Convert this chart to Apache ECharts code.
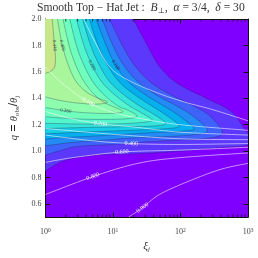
<!DOCTYPE html>
<html><head><meta charset="utf-8">
<script src="https://cdn.jsdelivr.net/npm/echarts@6/dist/echarts.min.js"></script>
<style>html,body{margin:0;padding:0;background:#fff}#c{width:258px;height:258px}</style>
</head><body><div id="c"></div>
<script>
// ---- axis ticks ----
const xiTicks = [1, 10, 100, 1000];
const qTicks = [0.6, 0.8, 1.0, 1.2, 1.4, 1.6, 1.8, 2.0];
const xiRange = [1, 1000];
const qRange = [0.5, 2.0];

// ---- filled contour levels (boundaries as [xi, q]) ----
const fillLevels = ['0.040','0.080','0.120','0.160','0.200','0.240','0.280','0.320','0.360','0.400','0.440'];
const c04 = [[20,2.0],[32.4,1.80],[49,1.64],[91.2,1.51],[240,1.40],[562,1.30],[912,1.16],[1259,1.08],[891,1.04],[501,1.03],[200,1.015],[100,1.0],[23.4,0.98],[10,0.975],[5.25,0.97],[2.51,0.945],[1.58,0.91],[1,0.85]];
const c08 = [[8.91,2.0],[13.8,1.80],[20.9,1.65],[36.3,1.52],[75.9,1.42],[158.5,1.34],[282,1.26],[417,1.14],[282,1.10],[100,1.085],[31.6,1.07],[10,1.05],[2.95,1.035],[1.58,1.0],[1,0.97]];
const c12 = [[6.92,2.0],[10,1.80],[14.45,1.65],[24,1.52],[45.7,1.42],[89.1,1.34],[158.5,1.26],[251,1.155],[158.5,1.125],[63.1,1.11],[20,1.10],[6.31,1.08],[2.51,1.065],[1,1.04]];
const c16 = [[5.62,2.0],[7.94,1.80],[10.96,1.65],[17.4,1.52],[31.6,1.42],[57.5,1.34],[100,1.26],[158.5,1.17],[100,1.15],[39.8,1.14],[12.6,1.125],[3.98,1.11],[1.585,1.10],[1,1.09]];
const c20 = [[4.47,2.0],[6.03,1.80],[8.32,1.65],[12.6,1.52],[21.9,1.42],[38,1.34],[66.1,1.26],[95.5,1.19],[63.1,1.17],[25.1,1.16],[7.94,1.15],[2.51,1.14],[1,1.13]];
const c24 = [[3.55,2.0],[4.68,1.80],[6.31,1.65],[9.12,1.52],[15.1,1.42],[25.1,1.34],[39.8,1.28],[60.3,1.21],[39.8,1.19],[15.85,1.185],[5.01,1.18],[2.0,1.175],[1,1.17]];
const c28 = [[2.88,2.0],[3.72,1.80],[4.90,1.65],[6.92,1.52],[10.96,1.42],[17.8,1.34],[26.3,1.29],[38,1.235],[25.1,1.215],[10,1.205],[3.16,1.205],[1,1.21]];
const c32 = [[2.29,2.0],[2.88,1.80],[3.72,1.65],[5.13,1.52],[7.59,1.42],[12.0,1.34],[16.6,1.31],[22.9,1.265],[15.85,1.245],[6.31,1.24],[2.51,1.245],[1,1.26]];
const c36 = [[1.82,2.0],[2.24,1.80],[2.82,1.65],[3.80,1.52],[5.50,1.42],[7.94,1.36],[14.1,1.30],[8.91,1.285],[3.98,1.29],[2.0,1.305],[1,1.33]];
const c40 = [[1.51,2.0],[1.78,1.80],[2.19,1.65],[2.82,1.53],[3.98,1.45],[6.03,1.40],[8.32,1.37],[5.62,1.355],[2.82,1.365],[1.585,1.385],[1,1.41]];
const c44 = [[1.26,2.0],[1.365,1.80],[1.41,1.70],[1.35,1.63],[1.15,1.60],[1,1.59]];
const fillContours = [c04,c08,c12,c16,c20,c24,c28,c32,c36,c40,c44];
// label index on each dark contour (-1 = none)
const fillLabelAt = [-1,-1,-1,2,-1,-1,2,-1,9,1,1];

// ---- white contour lines ----
const whiteLevels = ['', '0.100', '0.200', '', '0.400', '0.600', '0.800', '0.900'];
const wA = [[3.69,2.0],[5.58,1.814],[9.0,1.636],[17,1.536],[44.2,1.443],[115,1.371],[299,1.314],[1000,1.229]];
const wB = [[1,1.636],[1.83,1.507],[4.33,1.371],[9.0,1.30],[23.4,1.25],[98,1.20],[1000,1.157]];
const wC = [[1,1.30],[2.52,1.243],[6.54,1.207],[23.4,1.179],[98,1.143],[1000,1.121]];
const wD = [[1,1.171],[9.0,1.129],[98,1.093],[1000,1.086]];
const wE = [[1,1.121],[4.76,1.079],[18.7,1.057],[98,1.05],[1000,1.057]];
const wF = [[1,0.914],[2.52,0.95],[13.6,0.993],[98,1.007],[1000,1.029]];
const wG = [[1,0.671],[5.07,0.807],[23.4,0.907],[98,0.95],[1000,0.986]];
const wH = [[17,0.5],[27.5,0.571],[48.7,0.671],[143.6,0.779],[410,0.864],[1000,0.907]];
const whiteLines = [wA,wB,wC,wD,wE,wF,wG,wH];
const whiteLabelAt = [-1,2,2,-1,2,2,1,1];

// ---- style ----
const SERIF = "'Liberation Serif','DejaVu Serif',serif";
const bgColor = '#8000ff';
const bandColors = ['#5c38fd','#3f63fa','#228bf4','#05afed','#18cde4','#36e5d8','#53f5cc','#70febd','#8dfead','#aaf69c','#c7e789'];

function smoothPts(pts, n) {
  const out = [pts[0]];
  for (let i = 0; i < pts.length - 1; i++) {
    const p0 = pts[Math.max(i - 1, 0)], p1 = pts[i], p2 = pts[i + 1], p3 = pts[Math.min(i + 2, pts.length - 1)];
    for (let s = 1; s <= n; s++) {
      const t = s / n, t2 = t * t, t3 = t2 * t;
      out.push([0, 1].map(k => 0.5 * ((2 * p1[k]) + (-p0[k] + p2[k]) * t + (2 * p0[k] - 5 * p1[k] + 4 * p2[k] - p3[k]) * t2 + (-p0[k] + 3 * p1[k] - 3 * p2[k] + p3[k]) * t3)));
    }
  }
  return out;
}
function clipOf(cs) { return {type: 'rect', shape: {x: cs.x, y: cs.y, width: cs.width, height: cs.height}}; }

function labelEl(pts, i, text, color, size) {
  const p = pts[i];
  const a = pts[Math.max(i - 1, 0)], b = pts[Math.min(i + 1, pts.length - 1)];
  let ang = Math.atan2(-(b[1] - a[1]), b[0] - a[0]);
  if (ang > Math.PI / 2) ang -= Math.PI;
  if (ang < -Math.PI / 2) ang += Math.PI;
  return {type: 'text', x: p[0], y: p[1], rotation: ang,
    style: {text: text, fill: color, fontSize: size, fontFamily: SERIF, align: 'center', verticalAlign: 'middle'}};
}

const chart = echarts.init(document.getElementById('c'), null, {renderer: 'canvas'});

const minorX = [];
for (let k = 0; k < 3; k++) for (let m = 2; m <= 9; m++) minorX.push(m * Math.pow(10, k));

const option = {
  animation: false,
  backgroundColor: '#fff',
  grid: {left: 31, right: 10, top: 19, bottom: 29, show: true, backgroundColor: bgColor, borderWidth: 0},
  graphic: [{
    type: 'text', x: 37, y: 8,
    style: {
      text: 'Smooth Top − Hat Jet :  {i|B}{s|⊥},  {i|α} = 3/4,  {i|δ} = 30',
      fontFamily: SERIF, fontSize: 11.6, fill: '#333', align: 'left', verticalAlign: 'middle',
      rich: {i: {fontStyle: 'italic', fontFamily: SERIF, fontSize: 11.6, lineHeight: 14},
             s: {fontFamily: SERIF, fontSize: 7.5, verticalAlign: 'bottom', lineHeight: 8}}
    }
  }],
  xAxis: [{
    type: 'log', logBase: 10, min: xiRange[0], max: xiRange[1],
    axisLine: {lineStyle: {color: '#111', width: 1}},
    axisTick: {inside: true, length: 4.5, customValues: xiTicks, lineStyle: {color: '#111'}},
    axisLabel: {customValues: xiTicks, margin: 10, formatter: v => '{b|10}{s|' + Math.round(Math.log10(v)) + '}',
      rich: {b: {fontSize: 8, fontFamily: SERIF, color: '#444', lineHeight: 10},
             s: {fontSize: 5.5, fontFamily: SERIF, color: '#444', verticalAlign: 'top', lineHeight: 6}}},
    splitLine: {show: false},
    name: '{i|ξ}{s|j}', nameLocation: 'middle', nameGap: 20,
    nameTextStyle: {rich: {i: {fontSize: 11, fontStyle: 'italic', fontFamily: SERIF, color: '#333', lineHeight: 13},
                           s: {fontSize: 7, fontStyle: 'italic', fontFamily: SERIF, color: '#333', verticalAlign: 'bottom', lineHeight: 8}}}
  }, {
    type: 'log', logBase: 10, min: xiRange[0], max: xiRange[1], position: 'top',
    axisLine: {lineStyle: {color: '#111', width: 1}},
    axisTick: {inside: true, length: 4.5, customValues: xiTicks, lineStyle: {color: '#111'}},
    axisLabel: {show: false}, splitLine: {show: false}
  }],
  yAxis: [{
    type: 'value', min: qRange[0], max: qRange[1],
    axisLine: {show: true, lineStyle: {color: '#111', width: 1}},
    axisTick: {show: true, inside: true, length: 4.5, customValues: qTicks, lineStyle: {color: '#111'}},
    axisLabel: {customValues: qTicks, margin: 4, fontSize: 8, fontFamily: SERIF, color: '#444', formatter: v => v.toFixed(1)},
    splitLine: {show: false},
    name: '{i|q} = {i|θ}{s|obs}/{i|θ}{s|j}', nameLocation: 'middle', nameRotate: 90, nameGap: 20,
    nameTextStyle: {rich: {i: {fontSize: 10.5, fontStyle: 'italic', fontFamily: SERIF, color: '#333', lineHeight: 13},
                           s: {fontSize: 7, fontFamily: SERIF, color: '#333', verticalAlign: 'bottom', lineHeight: 8}}}
  }, {
    type: 'value', min: qRange[0], max: qRange[1], position: 'right',
    axisLine: {show: true, lineStyle: {color: '#111', width: 1}},
    axisTick: {show: true, inside: true, length: 4.5, customValues: qTicks, lineStyle: {color: '#111'}},
    axisLabel: {show: false}, splitLine: {show: false}
  }],
  series: [
    {
      type: 'custom', coordinateSystem: 'cartesian2d', clip: true, silent: true, z: 2,
      encode: {x: 0, y: 1},
      data: fillContours.map(c => [c[0][0], c[0][1]]),
      renderItem: function (params, api) {
        const c = fillContours[params.dataIndex];
        const cs = params.coordSys;
        const pts = smoothPts(c.map(p => api.coord(p)), 10);
        const first = pts[0], last = pts[pts.length - 1];
        const poly = [[cs.x - 20, cs.y - 20], [first[0], cs.y - 20]].concat(pts, [[cs.x - 20, last[1]]]);
        return {type: 'polygon', shape: {points: poly}, style: {fill: bandColors[params.dataIndex], stroke: null}, clipPath: clipOf(cs)};
      }
    },
    {
      type: 'custom', coordinateSystem: 'cartesian2d', clip: true, silent: true, z: 3,
      encode: {x: 0, y: 1},
      data: fillContours.map(c => [c[0][0], c[0][1]]),
      renderItem: function (params, api) {
        const i = params.dataIndex;
        const raw = fillContours[i].map(p => api.coord(p));
        const pts = smoothPts(raw, 10);
        const children = [{type: 'polyline', shape: {points: pts}, style: {stroke: 'rgba(30,25,70,0.55)', lineWidth: 0.55, fill: null}}];
        if (fillLabelAt[i] >= 0) children.push(labelEl(raw, fillLabelAt[i], fillLevels[i], 'rgba(30,30,50,0.8)', 5));
        return {type: 'group', children: children, clipPath: clipOf(params.coordSys)};
      }
    },
    {
      type: 'custom', coordinateSystem: 'cartesian2d', clip: true, silent: true, z: 4,
      encode: {x: 0, y: 1},
      data: whiteLines.map(c => [c[0][0], c[0][1]]),
      renderItem: function (params, api) {
        const i = params.dataIndex;
        const raw = whiteLines[i].map(p => api.coord(p));
        const pts = smoothPts(raw, 10);
        const children = [{type: 'polyline', shape: {points: pts}, style: {stroke: 'rgba(255,255,255,0.8)', lineWidth: 0.7, fill: null}}];
        if (whiteLabelAt[i] >= 0 && whiteLevels[i]) children.push(labelEl(raw, whiteLabelAt[i], whiteLevels[i], 'rgba(255,255,255,0.95)', 6));
        return {type: 'group', children: children, clipPath: clipOf(params.coordSys)};
      }
    },
    {
      type: 'custom', coordinateSystem: 'cartesian2d', silent: true, z: 6,
      encode: {x: 0, y: 1},
      data: minorX.map(v => [v, qRange[0]]),
      renderItem: function (params, api) {
        const v = minorX[params.dataIndex];
        const b = api.coord([v, qRange[0]]), t = api.coord([v, qRange[1]]);
        return {type: 'group', children: [
          {type: 'line', shape: {x1: b[0], y1: b[1], x2: b[0], y2: b[1] - 2.5}, style: {stroke: '#111', lineWidth: 0.8}},
          {type: 'line', shape: {x1: t[0], y1: t[1], x2: t[0], y2: t[1] + 2.5}, style: {stroke: '#111', lineWidth: 0.8}}
        ]};
      }
    }
  ]
};
chart.setOption(option);
</script>
</body></html>
